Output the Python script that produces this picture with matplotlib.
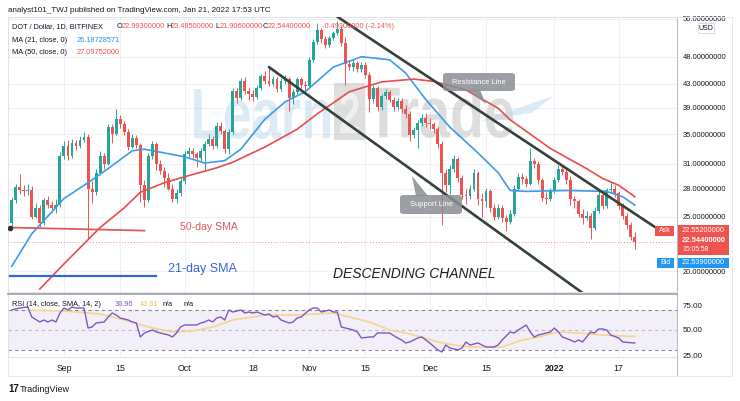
import numpy as np
import pandas as pd
import matplotlib
matplotlib.use("Agg")
import matplotlib.pyplot as plt
import matplotlib.dates as mdates
from matplotlib.patches import FancyBboxPatch, Rectangle, Polygon, PathPatch
from matplotlib.textpath import TextPath
from matplotlib.font_manager import FontProperties
from matplotlib.lines import Line2D
from matplotlib.transforms import Affine2D
from matplotlib.ticker import FixedLocator, NullLocator

W, H = 740, 401
FONT = "Liberation Sans"
plt.rcParams["font.family"] = [FONT, "DejaVu Sans"]

GREEN = "#26a69a"
RED = "#ef5350"
BLUE_MA = "#3d9be9"
RED_MA = "#e84c4c"
PURPLE = "#7e57c2"
YELLOW = "#f5d68e"
GRID = "#eef0f5"
DARK = "#131722"
CHANNEL = "#34423a"

# ---- daily candles, DOT/USD (Bitfinex), 2021-08-19 .. 2022-01-21 ----
FIRST_DAY = "2021-08-19"
FIRST_OPEN = 24.3
CLOSE = [
    26.7, 28.2, 27.9, 27.7, 27.9, 25.0, 25.9, 24.3, 26.7, 26.2, 25.9, 26.2, 32.0,
    33.4, 32.0, 33.7, 33.3, 34.2, 34.6, 28.0, 27.6, 29.9, 32.0, 31.0, 36.0, 35.0, 37.2, 36.4,
    35.3, 33.2, 34.5, 33.5, 28.4, 26.7, 32.0, 33.6, 31.0, 30.1, 29.2, 28.0, 26.8, 27.5, 28.9,
    32.2, 32.6, 32.2, 31.7, 32.6, 33.6, 34.3, 33.3, 36.2, 35.4, 32.9, 35.3, 41.7, 40.6, 43.5,
    41.7, 41.2, 40.8, 42.3, 44.3, 43.4, 43.0, 43.8, 42.0, 43.5, 43.8, 40.6, 41.5, 43.8, 42.8, 42.6,
    47.4, 51.0, 53.5, 51.6, 50.4, 51.8, 52.8, 53.8, 50.8, 46.6, 46.0, 46.8, 45.6, 46.4, 44.6,
    40.4, 42.2, 39.1, 40.9, 41.5, 40.3, 39.1, 40.1, 38.7, 38.0, 34.9, 35.6, 36.6, 37.4, 36.6,
    36.4, 35.7, 33.6, 29.8, 28.4, 30.4, 31.6, 29.2, 27.3, 27.2, 28.0, 29.8, 26.9, 26.6, 27.7,
    25.9, 25.0, 25.9, 24.8, 24.4, 25.3, 28.0, 29.4, 29.1, 28.6, 31.3, 31.0, 29.0, 27.0, 26.9, 27.7,
    29.0, 30.4, 30.0, 29.0, 26.8, 26.6, 25.3, 24.8, 25.1, 23.9, 25.6, 27.3, 26.1, 27.8, 28.0,
    27.5, 26.1, 25.1, 24.1, 23.04, 22.544,
]
HIGH = [
    27.1, 28.6, 29.7, 28.4, 28.5, 28.3, 26.4, 26.2, 27.0, 27.2, 26.6, 26.8, 32.5,
    34.0, 34.2, 34.3, 34.1, 34.7, 35.3, 35.0, 28.9, 30.4, 32.6, 32.4, 36.5, 36.4, 38.8, 37.8,
    36.9, 35.7, 35.0, 34.8, 33.8, 29.0, 32.4, 34.0, 33.9, 31.5, 30.6, 29.9, 28.6, 28.0, 29.3,
    32.6, 33.2, 33.0, 32.5, 33.0, 34.0, 35.0, 34.7, 36.7, 36.8, 35.8, 35.7, 42.3, 42.2, 44.0,
    44.1, 42.3, 41.9, 42.8, 44.8, 45.2, 46.3, 44.3, 44.2, 44.0, 44.6, 44.2, 42.0, 44.2, 44.1, 43.4,
    48.0, 51.6, 55.0, 54.0, 52.2, 52.3, 53.3, 55.5, 54.4, 52.0, 47.4, 47.6, 47.2, 47.0, 47.0,
    45.0, 42.7, 42.5, 41.3, 42.1, 41.9, 40.8, 40.6, 40.5, 39.4, 38.4, 36.0, 37.0, 38.0, 38.2,
    37.4, 36.8, 36.0, 34.0, 30.4, 30.8, 32.1, 31.9, 29.6, 28.0, 28.4, 30.3, 30.1, 27.5, 28.1,
    28.0, 26.3, 26.3, 26.2, 25.2, 25.7, 28.4, 29.8, 29.9, 29.5, 33.0, 31.8, 31.3, 29.3, 27.6, 28.1,
    29.4, 30.8, 30.9, 30.3, 29.5, 27.2, 26.9, 25.8, 25.6, 25.4, 26.0, 27.7, 27.8, 28.1, 28.8,
    28.4, 27.7, 26.4, 25.4, 24.4, 23.485,
]
LOW = [
    24.0, 26.4, 27.4, 27.2, 27.3, 24.7, 24.8, 24.0, 24.1, 25.9, 25.5, 25.4, 26.0,
    31.6, 31.5, 31.8, 32.8, 33.0, 33.9, 22.9, 26.4, 27.3, 29.6, 30.4, 30.8, 33.8, 34.8, 35.9,
    34.9, 32.8, 33.0, 33.1, 26.5, 26.0, 26.5, 31.6, 30.2, 29.7, 28.2, 27.8, 26.5, 26.4, 27.2,
    28.6, 31.9, 31.7, 30.6, 31.4, 30.2, 33.3, 32.9, 33.0, 35.0, 32.4, 32.3, 35.0, 39.8, 40.2,
    41.2, 40.3, 40.0, 40.4, 41.9, 42.9, 42.5, 42.6, 41.5, 41.8, 43.0, 38.5, 39.6, 41.3, 42.3, 41.6,
    42.3, 47.0, 50.6, 50.8, 49.8, 49.9, 51.4, 52.4, 50.2, 42.8, 45.4, 45.2, 45.0, 45.1, 44.0,
    38.3, 39.8, 38.5, 38.6, 40.4, 39.9, 38.5, 38.6, 38.1, 37.4, 34.0, 34.5, 33.0, 36.2, 36.0,
    35.8, 35.2, 33.0, 24.1, 27.6, 27.4, 30.0, 28.8, 26.8, 26.3, 26.9, 27.7, 26.2, 25.0, 26.0,
    25.5, 24.6, 24.7, 24.4, 23.6, 24.2, 25.1, 27.7, 28.6, 28.2, 28.4, 30.5, 28.6, 26.6, 26.3, 26.6,
    27.5, 28.8, 29.6, 28.6, 26.2, 25.9, 24.9, 24.2, 24.6, 22.8, 23.7, 25.4, 25.8, 25.9, 27.5,
    27.1, 25.8, 24.7, 23.8, 22.7, 21.906,
]

# ---- moving averages ----
MA21_DATES = ["2021-08-19", "2021-08-24", "2021-09-01", "2021-09-07", "2021-09-12", "2021-09-18",
              "2021-09-21", "2021-09-24", "2021-09-27", "2021-10-01", "2021-10-06", "2021-10-11",
              "2021-10-15", "2021-10-21", "2021-10-26", "2021-10-31", "2021-11-07", "2021-11-14",
              "2021-11-21", "2021-11-25", "2021-11-30", "2021-12-06", "2021-12-13", "2021-12-18",
              "2021-12-21", "2021-12-25", "2022-01-04", "2022-01-14", "2022-01-18", "2022-01-21"]
MA21_VALUES = [20.4, 23.3, 26.9, 28.7, 30.4, 32.7, 32.9, 32.6, 32.3, 31.9, 31.1, 31.4, 32.9, 37.2,
               39.9, 41.6, 46.0, 48.0, 47.4, 44.9, 40.3, 36.0, 32.4, 29.9, 27.8, 27.7, 27.8, 27.7,
               27.1, 26.19]
MA50_DATES = ["2021-08-26", "2021-09-01", "2021-09-10", "2021-09-16", "2021-09-20", "2021-09-26",
              "2021-10-01", "2021-10-09", "2021-10-13", "2021-10-21", "2021-10-29", "2021-11-03",
              "2021-11-11", "2021-11-19", "2021-11-27", "2021-12-02", "2021-12-10", "2021-12-18",
              "2021-12-21", "2021-12-31", "2022-01-09", "2022-01-13", "2022-01-17", "2022-01-21"]
MA50_VALUES = [18.6, 20.6, 23.9, 25.9, 27.6, 28.7, 29.4, 30.5, 31.2, 33.2, 35.7, 38.0, 41.6, 43.3,
               43.8, 43.4, 41.9, 38.9, 37.1, 33.0, 30.4, 29.2, 28.4, 27.10]

# ---- RSI(14) and its SMA(14) ----
RSI_DATES = ["2021-08-19", "2021-08-21", "2021-08-23", "2021-08-24", "2021-08-26", "2021-08-27",
             "2021-08-28", "2021-08-29", "2021-08-30", "2021-08-31", "2021-09-01", "2021-09-02",
             "2021-09-03", "2021-09-04", "2021-09-06", "2021-09-07", "2021-09-08", "2021-09-09",
             "2021-09-11", "2021-09-12", "2021-09-13", "2021-09-14", "2021-09-15", "2021-09-17",
             "2021-09-18", "2021-09-19", "2021-09-20", "2021-09-21", "2021-09-23", "2021-09-24",
             "2021-09-25", "2021-09-27", "2021-09-28", "2021-09-29", "2021-09-30", "2021-10-01",
             "2021-10-03", "2021-10-04", "2021-10-05", "2021-10-06", "2021-10-07", "2021-10-08",
             "2021-10-09", "2021-10-10", "2021-10-11", "2021-10-12", "2021-10-13", "2021-10-15",
             "2021-10-16", "2021-10-17", "2021-10-18", "2021-10-19", "2021-10-21", "2021-10-22",
             "2021-10-23", "2021-10-24", "2021-10-25", "2021-10-27", "2021-10-28", "2021-10-29",
             "2021-10-30", "2021-11-01", "2021-11-02", "2021-11-03", "2021-11-04", "2021-11-06",
             "2021-11-07", "2021-11-08", "2021-11-09", "2021-11-10", "2021-11-12", "2021-11-13",
             "2021-11-14", "2021-11-16", "2021-11-17", "2021-11-18", "2021-11-21", "2021-11-23",
             "2021-11-24", "2021-11-25", "2021-11-26", "2021-11-28", "2021-11-29", "2021-11-30",
             "2021-12-01", "2021-12-03", "2021-12-04", "2021-12-05", "2021-12-06", "2021-12-08",
             "2021-12-09", "2021-12-10", "2021-12-11", "2021-12-13", "2021-12-14", "2021-12-15",
             "2021-12-17", "2021-12-18", "2021-12-19", "2021-12-21", "2021-12-22", "2021-12-23",
             "2021-12-25", "2021-12-26", "2021-12-27", "2021-12-28", "2021-12-30", "2021-12-31",
             "2022-01-01", "2022-01-02", "2022-01-03", "2022-01-05", "2022-01-06", "2022-01-07",
             "2022-01-08", "2022-01-10", "2022-01-11", "2022-01-12", "2022-01-13", "2022-01-14",
             "2022-01-15", "2022-01-17", "2022-01-18", "2022-01-21"]
RSI_VALUES = [70, 72, 73, 63, 58, 60, 58, 60, 58, 67, 72, 70,
              73, 72, 72, 52, 53, 57, 58, 63, 67, 65, 62, 60,
              58, 57, 43, 47, 50, 48, 47, 45, 43, 47, 53, 55,
              55, 55, 57, 58, 60, 58, 62, 63, 60, 70, 68, 70,
              67, 68, 67, 68, 65, 66, 63, 64, 60, 57, 58, 62,
              63, 70, 72, 72, 68, 70, 68, 68, 53, 52, 50, 48,
              42, 43, 43, 47, 47, 42, 40, 37, 38, 42, 43, 40,
              37, 30, 28, 35, 32, 30, 32, 38, 35, 37, 35, 33,
              33, 35, 40, 48, 47, 50, 55, 48, 43, 45, 47, 48,
              52, 48, 43, 40, 38, 40, 38, 48, 47, 51, 51, 50,
              45, 42, 38, 36.96]
RSI_MA_DATES = ["2021-08-23", "2021-09-01", "2021-09-10", "2021-09-18", "2021-09-22", "2021-09-28",
                "2021-10-03", "2021-10-08", "2021-10-13", "2021-10-21", "2021-10-29", "2021-11-07",
                "2021-11-11", "2021-11-16", "2021-11-21", "2021-11-25", "2021-11-29", "2021-12-03",
                "2021-12-07", "2021-12-11", "2021-12-15", "2021-12-19", "2021-12-24", "2021-12-28",
                "2022-01-02", "2022-01-07", "2022-01-13", "2022-01-18", "2022-01-21"]
RSI_MA_VALUES = [70, 69, 66, 58, 53, 48, 49, 53, 60, 65, 65, 67, 63, 58, 50, 47, 43, 38, 35, 33,
                 33, 33, 40, 43, 48, 47, 45, 44, 43.61]

# ---- drawn channel and note lines (date, price) ----
RESIST_DATES, RESIST_PRICES = ["2021-11-08", "2022-01-26"], [56.5, 23.95]
SUPPORT_DATES, SUPPORT_PRICES = ["2021-10-22", "2022-01-08"], [46.0, 18.3]
NOTE50_DATES, NOTE50_PRICES = ["2021-08-18 12:00", "2021-09-21 00:00"], [23.9, 23.6]
NOTE21_DATES, NOTE21_PRICES = ["2021-08-18 12:00", "2021-09-24 00:00"], [19.6, 19.6]

PRICE_TICKS = [20, 25, 28, 31, 35, 39, 43, 48, 56]
RSI_TICKS = [25, 50, 75]
TIME_TICKS = ["2021-09-01", "2021-09-15", "2021-10-01", "2021-10-18", "2021-11-01", "2021-11-15",
              "2021-12-01", "2021-12-15", "2022-01-01", "2022-01-17"]
TIME_LABELS = ["Sep", "15", "Oct", "18", "Nov", "15", "Dec", "15", "2022", "17"]

XLIM = ("2021-08-18 02:00", "2022-01-31 12:00")
YLIM = (18.37, 56.44)
RSI_LIM = (23, 86)


def dnum(seq):
    return mdates.date2num(pd.to_datetime(list(seq), format="mixed"))


def rect(x0, y0, x1, y1):
    return [x0 / W, 1 - y1 / H, (x1 - x0) / W, (y1 - y0) / H]


def fp(x, y):
    return x / W, 1 - y / H


def ftext(fig, x, y, s, color=DARK, size=5.3, **kw):
    fig.text(x / W, 1 - y / H, s, color=color, fontsize=size, va="center", ha=kw.pop("ha", "left"),
             zorder=20, **kw)


def fbox(fig, x0, y0, x1, y1, color, rounded=False, alpha=1.0, ec="none", z=15):
    if rounded:
        p = FancyBboxPatch(fp(x0, y1), (x1 - x0) / W, (y1 - y0) / H,
                           boxstyle="round,pad=0,rounding_size=0.006",
                           transform=fig.transFigure, fc=color, ec=ec, alpha=alpha, zorder=z)
    else:
        p = Rectangle(fp(x0, y1), (x1 - x0) / W, (y1 - y0) / H, transform=fig.transFigure,
                      fc=color, ec=ec, alpha=alpha, zorder=z, lw=0.6)
    fig.add_artist(p)


def stamp(fig, ax, text, box, color, alpha, weight="bold"):
    # watermark glyphs stretched into a pixel box (x0, top, x1, baseline)
    x0, y0, x1, y1 = box
    tp = TextPath((0, 0), text, size=10, prop=FontProperties(family=FONT, weight=weight))
    ext = tp.get_extents()
    tr = (Affine2D().translate(-ext.x0, -ext.y0)
          .scale((x1 - x0) / ext.width, (y1 - y0) / ext.height)
          .translate(x0, H - y1).scale(1 / W, 1 / H) + fig.transFigure)
    ax.add_patch(PathPatch(tp, transform=tr, fc=color, ec="none", alpha=alpha, zorder=1))


def main():
    fig = plt.figure(figsize=(W / 100, H / 100), dpi=100)
    fig.patch.set_facecolor("white")
    ax = fig.add_axes(rect(8, 17, 677, 292))
    rs = fig.add_axes(rect(8, 294, 677, 357))

    dates = pd.date_range(FIRST_DAY, periods=len(CLOSE), freq="D")
    x = mdates.date2num(dates)
    c = np.array(CLOSE)
    o = np.concatenate([[FIRST_OPEN], c[:-1]])
    hi, lo = np.array(HIGH), np.array(LOW)
    col = np.where(c >= o, GREEN, RED)

    # --- main price pane ---
    ax.set_yscale("log")
    ax.set_axisbelow(True)
    ax.grid(True, color=GRID, lw=0.8)
    # Learn2Trade watermark
    stamp(fig, ax, "Learn", (194, 89, 330, 139), "#bcd8ee", 0.5)
    ax.add_patch(Rectangle(fp(334, 140), 31 / W, 57 / H, transform=fig.transFigure,
                           fc="#c4c4c4", ec="none", alpha=0.55, zorder=1))
    stamp(fig, ax, "2", (340, 93, 359, 133), "#f2f2f2", 0.9)
    stamp(fig, ax, "Trade", (367, 85, 513, 138), "#bdbdbd", 0.5)
    ax.add_patch(Polygon([fp(478, 122), fp(553, 96), fp(532, 113), fp(510, 116)], closed=True,
                         transform=fig.transFigure, fc="#bcd8ee", ec="none", alpha=0.5, zorder=1))

    ax.vlines(x, lo, hi, colors=col, lw=0.7, zorder=3)
    ax.bar(x, np.maximum(np.abs(c - o), 0.06), bottom=np.minimum(o, c), width=0.72,
           color=col, lw=0, zorder=4)
    ax.plot(dnum(MA21_DATES), MA21_VALUES, color=BLUE_MA, lw=1.2, zorder=5)
    ax.plot(dnum(MA50_DATES), MA50_VALUES, color=RED_MA, lw=1.2, zorder=5)
    ax.axhline(CLOSE[-1], color=RED, lw=0.7, ls=(0, (1, 2)), alpha=0.7, zorder=2)

    ax.plot(dnum(RESIST_DATES), RESIST_PRICES, color=CHANNEL, lw=1.9, zorder=6,
            solid_capstyle="round")
    ax.plot(dnum(SUPPORT_DATES), SUPPORT_PRICES, color=CHANNEL, lw=1.9, zorder=6,
            solid_capstyle="round")
    ax.plot(dnum(NOTE50_DATES), NOTE50_PRICES, color="#e05a5a", lw=1.3, zorder=6)
    ax.plot(dnum(NOTE50_DATES[:1]), NOTE50_PRICES[:1], "o", color="#333", ms=3, zorder=7)
    ax.plot(dnum(NOTE21_DATES), NOTE21_PRICES, color="#3567d8", lw=1.6, zorder=6)

    ax.text(dnum(["2021-09-29 18:00"])[0], 24.0, "50-day SMA", color="#e05a5a",
            fontsize=7.6, va="center", zorder=8)
    ax.text(dnum(["2021-09-27"])[0], 20.2, "21-day SMA", color="#3567d8",
            fontsize=9, va="center", zorder=8)
    ax.text(dnum(["2021-11-06 22:00"])[0], 19.8, "DESCENDING CHANNEL", color="#1e1e1e",
            fontsize=10.0, style="italic", va="center", zorder=8)

    ax.set_xlim(dnum(XLIM))
    ax.set_ylim(*YLIM)
    ax.yaxis.set_major_locator(FixedLocator(PRICE_TICKS))
    ax.yaxis.set_minor_locator(NullLocator())
    ax.set_yticklabels([f"{v:.8f}" for v in PRICE_TICKS])
    ax.yaxis.tick_right()
    ax.tick_params(axis="y", length=0, pad=4, labelsize=5.4, labelcolor=DARK)
    ax.xaxis.set_major_locator(FixedLocator(dnum(TIME_TICKS)))
    ax.tick_params(axis="x", length=0, labelbottom=False)
    for s in ax.spines.values():
        s.set_color("#e0e3eb")
        s.set_linewidth(0.8)
    ax.spines["right"].set_color("#b8bbc4")

    # --- RSI pane ---
    rs.axhspan(30, 70, color=PURPLE, alpha=0.09, lw=0, zorder=0)
    for lvl, a in [(70, 0.9), (50, 0.45), (30, 0.9)]:
        rs.axhline(lvl, color="#787b86", lw=0.8, ls=(0, (3, 3)), alpha=a, zorder=1)
    rs.plot(dnum(RSI_MA_DATES), RSI_MA_VALUES, color=YELLOW, lw=1.2, zorder=2)
    rs.plot(dnum(RSI_DATES), RSI_VALUES, color=PURPLE, lw=1.0, zorder=3)
    rs.set_xlim(dnum(XLIM))
    rs.set_ylim(*RSI_LIM)
    rs.set_axisbelow(True)
    rs.grid(True, axis="x", color=GRID, lw=0.8)
    rs.xaxis.set_major_locator(FixedLocator(dnum(TIME_TICKS)))
    rs.set_xticklabels(TIME_LABELS)
    for lab in rs.get_xticklabels():
        if lab.get_text() == "2022":
            lab.set_fontweight("bold")
    rs.yaxis.set_major_locator(FixedLocator(RSI_TICKS))
    rs.set_yticklabels([f"{v:.2f}" for v in RSI_TICKS])
    rs.yaxis.tick_right()
    rs.tick_params(axis="y", length=0, pad=4, labelsize=5.8, labelcolor=DARK)
    rs.tick_params(axis="x", length=0, pad=5, labelsize=6.3, labelcolor=DARK)
    for s in rs.spines.values():
        s.set_color("#e0e3eb")
        s.set_linewidth(0.8)
    rs.spines["top"].set_color("#a9acb5")
    rs.spines["top"].set_linewidth(1.4)
    rs.spines["right"].set_color("#b8bbc4")

    # outer frame of the screenshot
    fig.add_artist(Line2D([677 / W, 677 / W], [1 - 357 / H, 1 - 376 / H], color="#b8bbc4",
                          lw=0.8, transform=fig.transFigure))
    fig.add_artist(Line2D([8 / W, 732 / W], [1 - 376 / H, 1 - 376 / H], color="#e6e8ee",
                          lw=0.7, transform=fig.transFigure))
    fig.add_artist(Line2D([732 / W, 732 / W], [1 - 17 / H, 1 - 376 / H], color="#e6e8ee",
                          lw=0.7, transform=fig.transFigure))
    fig.add_artist(Line2D([677 / W, 732 / W], [1 - 17 / H, 1 - 17 / H], color="#e6e8ee",
                          lw=0.7, transform=fig.transFigure))
    fig.add_artist(Line2D([8 / W, 8 / W], [1 - 357 / H, 1 - 376 / H], color="#e6e8ee",
                          lw=0.7, transform=fig.transFigure))

    # --- header / legend texts ---
    ftext(fig, 8, 10, "analyst101_TWJ published on TradingView.com, Jan 21, 2022 17:53 UTC",
          size=5.75)
    ftext(fig, 12, 27, "DOT / Dollar, 1D, BITFINEX")
    for lx, letter, vx, val in [(117, "O", 122, "22.99300000"), (166, "H", 171, "23.48500000"),
                                (215, "L", 220, "21.90600000"), (263, "C", 268, "22.54400000")]:
        ftext(fig, lx, 27, letter)
        ftext(fig, vx, 27, val, color=RED)
    ftext(fig, 322, 27, "-0.49300000 (-2.14%)", color=RED)
    ftext(fig, 12, 40, "MA (21, close, 0)")
    ftext(fig, 77, 40, "26.18728571", color="#2196f3")
    ftext(fig, 12, 52, "MA (50, close, 0)")
    ftext(fig, 77, 52, "27.09752000", color=RED)
    ftext(fig, 12, 305, "RSI (14, close, SMA, 14, 2)")
    ftext(fig, 115, 305, "36.96", color=PURPLE)
    ftext(fig, 140, 305, "43.61", color="#f0c040")
    ftext(fig, 163, 305, "n/a")
    ftext(fig, 184, 305, "n/a")

    # --- channel labels ---
    fig.add_artist(Polygon([fp(468, 90), fp(480, 90), fp(486, 104)], closed=True,
                           transform=fig.transFigure, fc="#8a8d93", ec="none", alpha=0.85,
                           zorder=14))
    fbox(fig, 443, 73, 515, 91, "#8a8d93", rounded=True, alpha=0.85)
    ftext(fig, 479, 82, "Resistance Line", color="white", size=5.4, ha="center")
    fig.add_artist(Polygon([fp(412, 176), fp(416, 196), fp(428, 196)], closed=True,
                           transform=fig.transFigure, fc="#8a8d93", ec="none", alpha=0.85,
                           zorder=14))
    fbox(fig, 400, 195, 462, 214, "#8a8d93", rounded=True, alpha=0.85)
    ftext(fig, 431, 204.5, "Support Line", color="white", size=5.4, ha="center")

    # --- price scale badges ---
    fbox(fig, 698, 23, 714, 33, "white", ec="#d1d4dc")
    ftext(fig, 706, 28, "USD", size=5.0, ha="center")
    fbox(fig, 655, 226, 674, 236, RED)
    ftext(fig, 664.5, 231, "Ask", color="white", size=5.0, ha="center")
    fbox(fig, 678, 225, 729, 255, RED)
    ftext(fig, 682, 231, "22.55200000", color="white", size=5.3)
    ftext(fig, 682, 240.5, "22.54400000", color="white", size=5.4, weight="bold")
    ftext(fig, 682, 249.5, "15:05:58", color="white", size=4.9)
    fbox(fig, 657, 258, 674, 268, "#2196f3")
    ftext(fig, 665.5, 263, "Bid", color="white", size=5.0, ha="center")
    fbox(fig, 678, 258, 729, 268, "#2196f3")
    ftext(fig, 682, 263, "22.53900000", color="white", size=5.3)

    # --- TradingView footer ---
    ftext(fig, 8, 389, "17", size=7, weight="bold")
    ftext(fig, 20, 389, "TradingView", size=6.5)

    fig.savefig("out.png", dpi=100)


if __name__ == "__main__":
    main()
